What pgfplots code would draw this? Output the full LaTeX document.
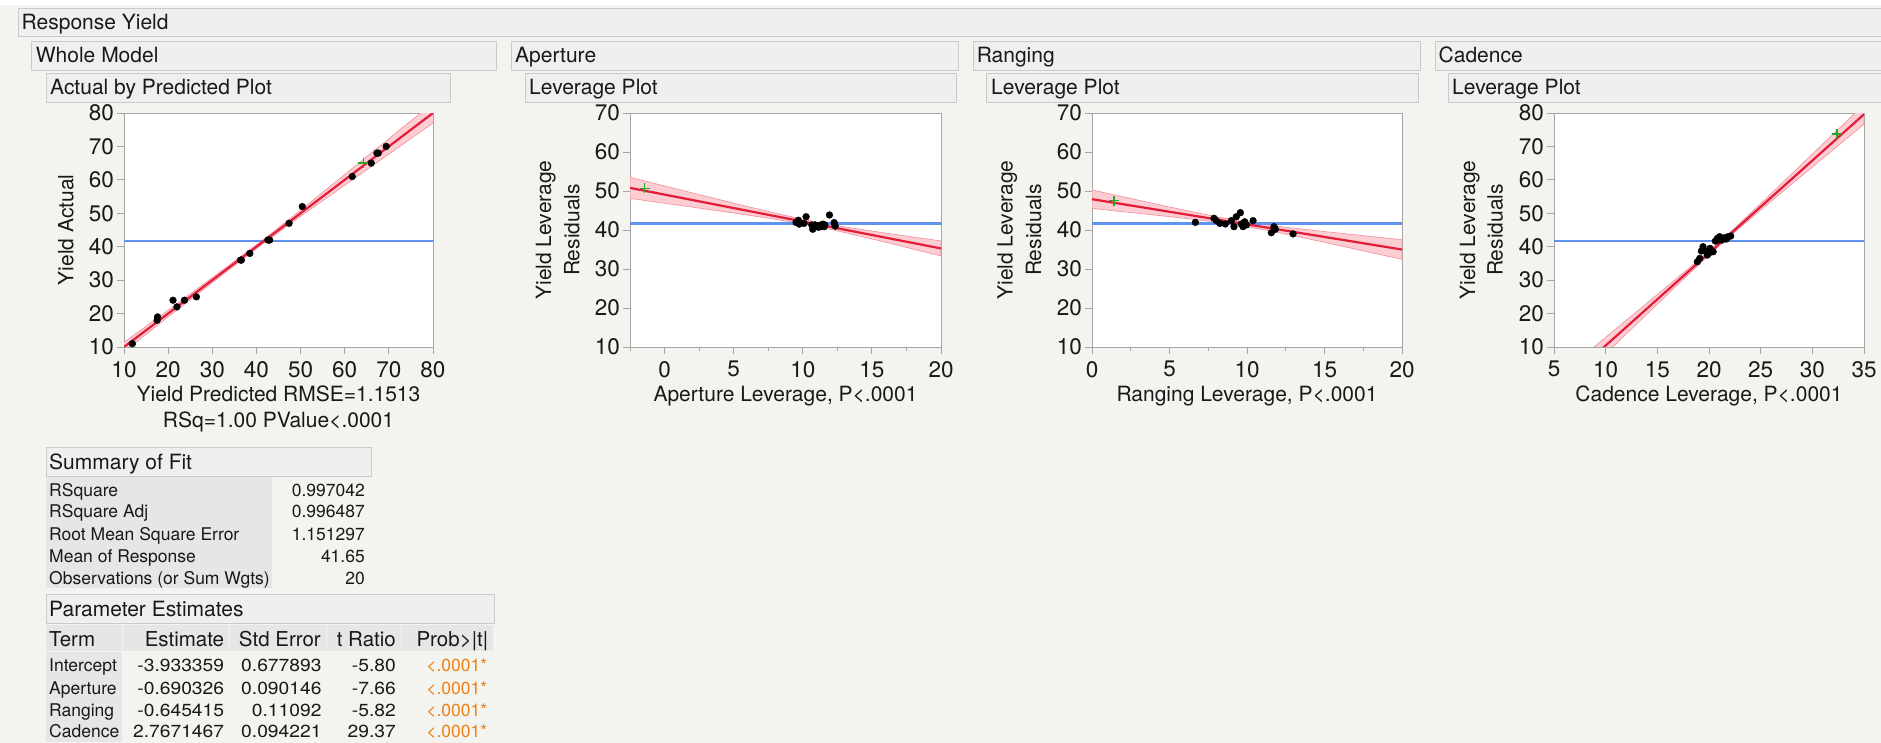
\documentclass[border=0pt]{standalone}
\usepackage{fontspec}
\setmainfont{TeX Gyre Heros}
\usepackage{pgfplots}
\pgfplotsset{compat=1.18}

\definecolor{panelbg}{RGB}{243,243,239}
\definecolor{barfill}{RGB}{239,239,239}
\definecolor{barline}{RGB}{202,202,202}
\definecolor{cellgray}{RGB}{230,230,230}
\definecolor{fitred}{RGB}{228,28,56}
\definecolor{bandfill}{RGB}{252,206,212}
\definecolor{bandline}{RGB}{242,140,152}
\definecolor{meanblue}{RGB}{95,145,240}
\definecolor{axisgray}{RGB}{165,165,165}
\definecolor{pgreen}{RGB}{40,165,40}
\definecolor{porange}{RGB}{238,128,20}
\definecolor{txt}{RGB}{25,25,25}

\newcommand\hdr{\fontsize{21bp}{25bp}\selectfont}
\newcommand\tck{\fontsize{22.5bp}{26bp}\selectfont}
\newcommand\tbl{\fontsize{17.5bp}{21bp}\selectfont}
\newcommand\thd{\fontsize{20.5bp}{24bp}\selectfont}
\newcommand\panelbar[4]{\filldraw[fill=barfill, draw=barline, line width=0.8bp] (#1bp,#2bp) rectangle (#3bp,#4bp);}

\pgfplotsset{
  lev/.style={
    scale only axis, width=310bp, height=234bp, anchor=south west,
    axis line style={axisgray, line width=0.8bp},
    tick style={axisgray, line width=0.8bp},
    tick align=outside, tick pos=left,
    major tick length=6.7bp, minor tick length=4bp,
    tick label style={font=\tck, text=txt},
    xticklabel style={yshift=-4bp},
    /pgf/number format/assume math mode=true,
    axis background/.style={fill=white},
  },
  meanline/.style={meanblue, line width=2.2bp},
  fitline/.style={fitred, line width=2.2bp},
  band/.style={fill=bandfill, draw=bandline, line width=0.6bp},
  obs/.style={only marks, mark=*, mark size=3.4bp, mark options={fill=black, draw=black}},
  excl/.style={only marks, mark=+, mark size=5bp, mark options={pgreen, line width=1.5bp}},
}

\begin{document}
\begin{tikzpicture}
\path[use as bounding box] (0,0) rectangle (1881bp,743bp);
\begin{scope}[x=1bp,y=1bp]
\fill[panelbg] (0,0) rectangle (1881,743);
\fill[white] (0,738) rectangle (1881,743);
\end{scope}

% outline headers
\panelbar{18}{707}{1890}{735}
\panelbar{31}{673}{496}{702}
\panelbar{46}{641}{450}{670}
\panelbar{511}{673}{958}{702}
\panelbar{525}{641}{956}{670}
\panelbar{973}{673}{1420}{702}
\panelbar{986}{641}{1418}{670}
\panelbar{1435}{673}{1890}{702}
\panelbar{1448}{641}{1890}{670}
\begin{scope}[x=1bp,y=1bp, every node/.style={anchor=base west, inner sep=0pt, font=\hdr, text=txt}]
\node at (21.5,713.5) {Response Yield};
\node at (35.7,680) {Whole Model};
\node at (50,648) {Actual by Predicted Plot};
\node at (515,680) {Aperture};
\node at (529,648) {Leverage Plot};
\node at (976.6,680) {Ranging};
\node at (991,648) {Leverage Plot};
\node at (1438.5,680) {Cadence};
\node at (1452,648) {Leverage Plot};
\end{scope}

% Actual by predicted
\begin{axis}[lev, at={(124bp,396bp)}, width=309bp,
  xmin=10, xmax=80, ymin=10, ymax=80,
  xtick={10,20,...,80}, ytick={10,20,...,80}]
\addplot[band] coordinates {(5,6.5) (10,11.4) (20,21.0) (30,30.75) (41.65,42.2) (50,50.9) (60,61.6) (70,72.3) (80,83.0) (85,88.6)
  (85,81.4) (80,77.0) (70,67.7) (60,58.4) (50,49.1) (41.65,41.1) (30,29.25) (20,19.0) (10,8.6) (5,3.6)} -- cycle;
\addplot[meanline] coordinates {(10,41.65) (80,41.65)};
\addplot[fitline] coordinates {(5,5) (85,85)};
\addplot[obs] coordinates {(11.9,11) (17.5,18) (17.6,19) (21.1,24) (22.0,22) (23.7,24) (26.4,25) (36.4,36) (36.6,36)
  (38.5,38) (42.6,42) (43.0,42) (47.4,47) (50.4,52) (61.7,61) (66.0,65) (67.3,68) (67.6,68) (69.4,70)};
\addplot[excl] coordinates {(64.2,65)};
\end{axis}

% Aperture leverage
\begin{axis}[lev, at={(630bp,396bp)}, width=311bp,
  xmin=-2.5, xmax=20, ymin=10, ymax=70,
  xtick={0,5,...,20}, minor xtick={-2.5,2.5,7.5,12.5,17.5}, ytick={10,20,...,70}]
\addplot[band] coordinates {(-2.5,53.50) (0,51.28) (2.5,49.08) (5,46.89) (7.5,44.74) (10,42.74) (10.75,42.20) (12.5,41.09) (15,39.73) (17.5,38.44) (20,37.19)
  (20,33.35) (17.5,35.54) (15,37.71) (12.5,39.79) (10.75,41.10) (10,41.60) (7.5,43.04) (5,44.35) (2.5,45.62) (0,46.86) (-2.5,48.10)} -- cycle;
\addplot[meanline] coordinates {(-2.5,41.65) (20,41.65)};
\addplot[fitline] coordinates {(-2.5,50.80) (20,35.27)};
\addplot[obs] coordinates {(9.51,41.96) (9.68,42.5) (9.75,41.5) (10.09,41.7) (10.24,43.4) (10.65,41.3) (10.72,40.2) (10.77,41.0)
  (10.89,41.3) (11.13,40.7) (11.2,41.2) (11.31,40.85) (11.45,41.5) (11.55,40.85) (11.6,41.3) (11.93,43.85) (12.27,41.9) (12.35,41.0) (12.3,41.5)};
\addplot[excl] coordinates {(-1.45,50.7)};
\end{axis}

% Ranging leverage
\begin{axis}[lev, at={(1092bp,396bp)},
  xmin=0, xmax=20, ymin=10, ymax=70,
  xtick={0,5,...,20}, minor xtick={2.5,7.5,12.5,17.5}, ytick={10,20,...,70}]
\addplot[band] coordinates {(0,50.27) (2.5,48.08) (5,45.91) (7.5,43.82) (9.68,42.20) (12.5,40.70) (15,39.60) (17.5,38.55) (20,37.51)
  (20,32.47) (17.5,34.65) (15,36.84) (12.5,38.96) (9.68,41.10) (7.5,42.30) (5,43.43) (2.5,44.48) (0,45.53)} -- cycle;
\addplot[meanline] coordinates {(0,41.65) (20,41.65)};
\addplot[fitline] coordinates {(0,47.90) (20,34.99)};
\addplot[obs] coordinates {(6.67,41.96) (7.87,43.0) (8.02,42.4) (8.24,41.7) (8.6,41.55) (8.99,42.4) (9.16,40.85) (9.31,43.4) (9.57,44.45)
  (9.64,41.55) (9.74,40.85) (9.8,41.7) (9.85,42.1) (9.96,41.3) (10.39,42.4) (11.57,39.3) (11.74,40.85) (11.83,40.2) (12.97,39.0)};
\addplot[excl] coordinates {(1.42,47.5)};
\end{axis}

% Cadence leverage
\begin{axis}[lev, at={(1554bp,396bp)},
  xmin=5, xmax=35, ymin=10, ymax=80,
  xtick={5,10,...,35}, ytick={10,20,...,80}]
\addplot[band] coordinates {(5,0.10) (7.5,6.49) (10,12.89) (12.5,19.29) (15,25.71) (17.5,32.16) (20,38.72) (21.28,42.20) (22.5,45.64) (25,52.90) (27.5,60.29) (30,67.71) (32.5,75.14) (35,82.57)
  (35,76.65) (32.5,70.26) (30,63.85) (27.5,57.43) (25,50.98) (22.5,44.42) (21.28,41.10) (20,37.50) (17.5,30.22) (15,22.83) (12.5,15.41) (10,7.99) (7.5,0.55) (5,-6.90)} -- cycle;
\addplot[meanline] coordinates {(5,41.65) (35,41.65)};
\addplot[fitline] coordinates {(5,-3.40) (35,79.61)};
\addplot[obs] coordinates {(18.87,35.5) (19.10,36.5) (19.26,38.7) (19.42,40.0) (19.65,38.7) (19.84,37.5) (19.97,38.0) (20.1,39.5) (20.2,38.7)
  (20.4,38.5) (20.61,41.7) (20.81,42.5) (20.88,42.0) (21.03,43.0) (21.26,42.0) (21.52,42.7) (21.68,42.3) (21.84,43.0) (22.10,43.2)};
\addplot[excl] coordinates {(32.4,73.7)};
\end{axis}

\begin{scope}[x=1bp,y=1bp]
% axis titles
\begin{scope}[every node/.style={anchor=base, inner sep=0pt, font=\hdr, text=txt}]
\node at (278.5,341.3) {Yield Predicted RMSE=1.1513};
\node at (278.5,315.4) {RSq=1.00 PValue<.0001};
\node[rotate=90] at (73.3,513) {Yield Actual};
\node at (785.5,341.3) {Aperture Leverage, P<.0001};
\node[rotate=90] at (551,513) {Yield Leverage};
\node[rotate=90] at (579.3,513) {Residuals};
\node at (1247,341.3) {Ranging Leverage, P<.0001};
\node[rotate=90] at (1012.6,513) {Yield Leverage};
\node[rotate=90] at (1041,513) {Residuals};
\node at (1709,341.3) {Cadence Leverage, P<.0001};
\node[rotate=90] at (1475,513) {Yield Leverage};
\node[rotate=90] at (1502.6,513) {Residuals};
\end{scope}

% Summary of Fit
\fill[cellgray] (46,155) rectangle (272,266);
\begin{scope}[every node/.style={inner sep=0pt, font=\tbl, text=txt}]
\node[anchor=base west] at (49,247) {RSquare};
\node[anchor=base east] at (365,247) {0.997042};
\node[anchor=base west] at (49,225.3) {RSquare Adj};
\node[anchor=base east] at (365,225.3) {0.996487};
\node[anchor=base west] at (49,203) {Root Mean Square Error};
\node[anchor=base east] at (365,203) {1.151297};
\node[anchor=base west] at (49,180.7) {Mean of Response};
\node[anchor=base east] at (365,180.7) {41.65};
\node[anchor=base west] at (49,158.7) {Observations (or Sum Wgts)};
\node[anchor=base east] at (365,158.7) {20};
\end{scope}

% Parameter Estimates
\fill[cellgray] (46,92) rectangle (122,118);
\fill[cellgray] (123,92) rectangle (229,118);
\fill[cellgray] (230,92) rectangle (326,118);
\fill[cellgray] (327,92) rectangle (401,118);
\fill[cellgray] (402,92) rectangle (493,118);
\fill[cellgray] (46,1) rectangle (122,91);
\begin{scope}[every node/.style={inner sep=0pt, font=\thd, text=txt}]
\node[anchor=base west] at (49,96.3) {Term};
\node[anchor=base east] at (224.3,96.3) {Estimate};
\node[anchor=base east] at (321,96.3) {Std Error};
\node[anchor=base east] at (396,96.3) {t Ratio};
\node[anchor=base east] at (488.3,96.3) {Prob>|t|};
\end{scope}
\begin{scope}[every node/.style={inner sep=0pt, font=\tbl, text=txt}]
\node[anchor=base west] at (49,71.3) {Intercept};
\node[anchor=base east] at (224.3,71.3) {\scalebox{1.1}[1]{-3.933359}};
\node[anchor=base east] at (321.7,71.3) {\scalebox{1.1}[1]{0.677893}};
\node[anchor=base east] at (396,71.3) {\scalebox{1.1}[1]{-5.80}};
\node[anchor=base east, text=porange] at (487.3,71.3) {<.0001*};
\node[anchor=base west] at (49,49) {Aperture};
\node[anchor=base east] at (224.3,49) {\scalebox{1.1}[1]{-0.690326}};
\node[anchor=base east] at (321.7,49) {\scalebox{1.1}[1]{0.090146}};
\node[anchor=base east] at (396,49) {\scalebox{1.1}[1]{-7.66}};
\node[anchor=base east, text=porange] at (487.3,49) {<.0001*};
\node[anchor=base west] at (49,27) {Ranging};
\node[anchor=base east] at (224.3,27) {\scalebox{1.1}[1]{-0.645415}};
\node[anchor=base east] at (321.7,27) {\scalebox{1.1}[1]{0.11092}};
\node[anchor=base east] at (396,27) {\scalebox{1.1}[1]{-5.82}};
\node[anchor=base east, text=porange] at (487.3,27) {<.0001*};
\node[anchor=base west] at (49,5.3) {Cadence};
\node[anchor=base east] at (224.3,5.3) {\scalebox{1.1}[1]{2.7671467}};
\node[anchor=base east] at (321.7,5.3) {\scalebox{1.1}[1]{0.094221}};
\node[anchor=base east] at (396,5.3) {\scalebox{1.1}[1]{29.37}};
\node[anchor=base east, text=porange] at (487.3,5.3) {<.0001*};
\end{scope}
\end{scope}
\panelbar{46}{267}{371}{296}
\panelbar{46}{120}{494}{149}
\begin{scope}[x=1bp,y=1bp]
\node[anchor=base west, inner sep=0pt, font=\hdr, text=txt] at (49,274) {Summary of Fit};
\node[anchor=base west, inner sep=0pt, font=\hdr, text=txt] at (49,127) {Parameter Estimates};
\end{scope}
\end{tikzpicture}
\end{document}
